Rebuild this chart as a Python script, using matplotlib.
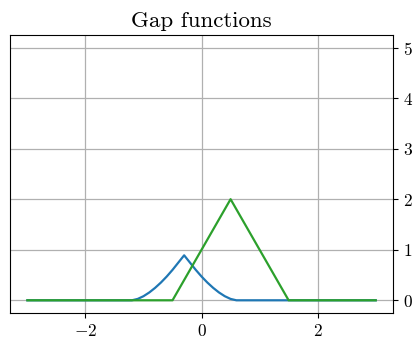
import matplotlib
matplotlib.use("Agg")
import matplotlib.pyplot as plt

plt.rcParams['font.family'] = 'serif'
plt.rcParams['font.serif'] = ['cmr10']
plt.rcParams['mathtext.fontset'] = 'cm'
plt.rcParams['axes.formatter.use_mathtext'] = True
plt.rcParams['axes.unicode_minus'] = True

# Blue gap function
blue_x = [-3.0, -1.2, -1.1, -1.0, -0.9, -0.8, -0.7, -0.6, -0.5, -0.4, -0.3,
          -0.2, -0.1, 0.0, 0.1, 0.2, 0.3, 0.4, 0.5, 0.6, 3.0]
blue_y = [0.0, 0.0, 0.027, 0.081, 0.155, 0.246, 0.351, 0.470, 0.602, 0.746, 0.89,
          0.746, 0.602, 0.470, 0.351, 0.246, 0.155, 0.081, 0.027, 0.0, 0.0]

# Green gap function
green_x = [-3.0, -0.5, 0.5, 1.5, 3.0]
green_y = [0.0, 0.0, 2.0, 0.0, 0.0]

x_ticks = [-2, 0, 2]
y_ticks = [0, 1, 2, 3, 4, 5]

fig = plt.figure(figsize=(4.16, 3.42), dpi=100)
ax = fig.add_axes([0.024, 0.085, 0.921, 0.813])
ax.plot(blue_x, blue_y, color='#1f77b4', lw=1.6)
ax.plot(green_x, green_y, color='#2ca02c', lw=1.6)
ax.set_xlim(-3.3, 3.3)
ax.set_ylim(-0.25, 5.25)
ax.set_xticks(x_ticks)
ax.set_yticks(y_ticks)
ax.yaxis.tick_right()
ax.grid(True, color='#b0b0b0', lw=0.9)
ax.set_axisbelow(True)
ax.tick_params(labelsize=12.5)
ax.set_title('Gap functions', fontsize=16.5)
fig.savefig('out.png', dpi=100)
